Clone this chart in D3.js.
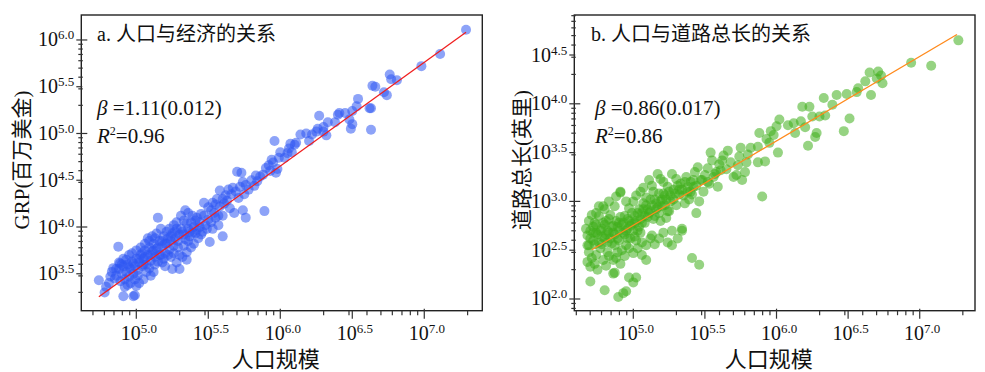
<!DOCTYPE html>
<html>
<head>
<meta charset="utf-8">
<script src="https://cdn.jsdelivr.net/npm/d3@7"></script>
<style>
body { margin: 0; background: #fff; }
svg { display: block; }
</style>
</head>
<body>
<svg id="chart" width="985" height="372"></svg>
<script>
// all values are log10 exponents
// [population, GRP]
const popGrp = [
    [7.29, 6.11], [7.11, 5.85], [6.98, 5.72], [6.76, 5.63], [6.77, 5.58], [6.81, 5.57], [6.74, 5.41], [6.72, 5.44],
    [6.64, 5.51], [6.66, 5.50], [6.54, 5.37], [6.53, 5.29], [6.62, 5.27], [6.63, 5.27], [6.63, 5.04], [6.50, 5.24],
    [6.45, 5.22], [6.48, 5.15], [6.50, 5.10], [6.49, 5.05], [6.41, 5.22], [6.40, 5.20], [6.38, 5.12], [6.33, 5.12],
    [6.30, 5.07], [6.27, 5.19], [6.26, 5.05], [6.30, 5.02], [6.32, 4.98], [6.25, 5.02], [6.22, 4.99], [6.18, 5.00],
    [6.20, 4.92], [6.14, 4.99], [6.10, 4.88], [6.11, 4.90], [6.07, 4.89], [6.06, 4.84], [6.05, 4.79], [6.08, 4.80],
    [6.03, 4.74], [5.96, 4.92], [6.00, 4.80], [5.99, 4.74], [5.94, 4.72], [5.95, 4.69], [5.92, 4.66], [5.98, 4.62],
    [5.97, 4.58], [5.93, 4.60], [5.90, 4.63], [5.88, 4.56], [5.86, 4.54], [5.83, 4.55], [5.84, 4.49], [5.82, 4.44],
    [5.80, 4.50], [5.89, 4.17], [5.73, 4.58], [5.70, 4.59], [5.78, 4.40], [5.76, 4.45], [5.74, 4.48], [5.72, 4.43],
    [5.75, 4.35], [5.71, 4.31], [5.69, 4.38], [5.67, 4.42], [5.66, 4.35], [5.64, 4.40], [5.62, 4.34], [5.60, 4.30],
    [5.63, 4.28], [5.61, 4.25], [5.58, 4.39], [5.56, 4.30], [5.58, 4.22], [5.55, 4.24], [5.53, 4.26], [5.47, 4.26],
    [5.52, 4.18], [5.50, 4.21], [5.54, 4.15], [5.57, 4.12], [5.60, 4.12], [5.65, 4.20], [5.68, 4.15], [5.74, 4.18],
    [5.76, 4.10], [5.60, 3.90], [5.51, 3.84], [5.45, 4.14], [5.44, 4.05], [5.42, 4.10], [5.40, 4.00], [5.41, 4.07],
    [5.38, 4.05], [5.36, 3.98], [5.39, 3.94], [5.35, 4.04], [5.37, 3.90], [5.33, 4.07], [5.32, 3.95], [5.34, 3.87],
    [5.31, 4.12], [5.30, 3.92], [5.29, 3.85], [5.28, 3.98], [5.27, 3.88], [5.26, 3.80], [5.25, 3.93], [5.24, 3.85],
    [5.23, 3.76], [5.22, 3.88], [5.21, 3.82], [5.20, 3.72], [5.15, 4.10], [5.19, 3.90], [5.18, 3.80], [5.17, 3.70],
    [5.16, 3.85], [5.14, 3.77], [5.13, 3.68], [5.12, 3.82], [5.11, 3.74], [5.10, 3.64], [5.09, 3.78], [5.08, 3.70],
    [5.07, 3.60], [5.06, 3.75], [5.05, 3.66], [5.04, 3.58], [5.03, 3.70], [5.02, 3.62], [5.01, 3.54], [5.00, 3.66],
    [4.99, 3.58], [4.98, 3.50], [4.97, 3.63], [4.96, 3.55], [4.95, 3.47], [4.94, 3.60], [4.93, 3.52], [4.92, 3.44],
    [4.91, 3.58], [4.90, 3.50], [4.89, 3.42], [4.88, 3.62], [4.875, 3.79], [4.86, 3.55], [4.85, 3.45], [4.83, 3.52],
    [4.81, 3.40], [4.79, 3.36], [4.78, 3.30], [4.74, 3.43], [4.887, 3.61], [4.91, 3.26], [4.98, 3.26], [4.99, 3.27],
    [5.30, 3.55], [5.28, 3.62], [5.32, 3.68], [5.35, 3.73], [5.40, 3.82], [5.25, 3.55], [5.20, 3.58], [5.18, 3.62],
    [5.12, 3.52], [5.10, 3.48], [5.05, 3.44], [5.02, 3.40], [5.00, 3.37], [4.95, 3.70], [4.93, 3.65], [4.97, 3.72],
    [5.00, 3.75], [5.03, 3.78], [5.06, 3.82], [5.08, 3.88], [5.11, 3.90], [5.14, 3.93], [5.16, 3.70], [5.19, 3.66],
    [5.22, 3.70], [5.24, 3.68], [5.26, 3.72], [5.29, 3.78], [5.33, 3.80], [5.36, 3.85], [5.38, 3.78], [5.43, 3.88],
    [5.46, 3.95], [5.48, 4.02], [5.50, 4.08], [5.47, 4.12], [5.52, 4.05], [5.55, 4.10], [5.57, 4.02], [5.53, 3.98],
    [5.45, 3.92], [5.42, 3.97], [5.39, 4.12], [5.36, 4.15], [5.34, 4.18], [5.28, 4.05], [5.26, 4.02], [5.23, 3.98],
    [5.21, 3.95], [5.17, 3.98], [5.13, 3.88], [5.09, 3.85], [5.05, 3.60], [5.07, 3.52], [5.09, 3.56], [5.13, 3.60],
    [5.15, 3.63], [5.01, 3.48], [4.99, 3.44], [4.96, 3.40], [4.94, 3.38], [4.92, 3.36], [4.90, 3.60], [4.91, 3.66],
    [4.88, 3.55], [4.86, 3.48], [4.84, 3.56], [4.82, 3.47], [4.95, 3.57], [4.98, 3.61], [5.02, 3.66], [5.04, 3.72],
    [5.06, 3.68], [5.10, 3.70], [5.12, 3.75], [5.15, 3.78], [5.18, 3.85], [5.20, 3.82], [5.24, 3.90], [5.27, 3.95],
    [5.31, 3.98], [5.33, 3.92], [5.37, 3.95], [5.41, 3.93], [5.44, 4.00], [5.49, 3.98], [5.35, 3.65], [5.30, 3.70]
];

// [population, road length]
const popRoad = [
    [7.27, 4.65], [6.94, 4.42], [7.08, 4.39], [6.65, 4.32], [6.71, 4.33], [6.73, 4.29], [6.74, 4.21], [6.70, 4.26],
    [6.66, 4.09], [6.62, 4.23], [6.57, 4.16], [6.56, 4.12], [6.49, 4.10], [6.42, 4.09], [6.33, 4.06], [6.51, 3.85],
    [6.47, 3.72], [6.39, 3.99], [6.34, 3.88], [6.30, 3.87], [6.25, 3.87], [6.18, 3.97], [6.23, 3.97], [6.22, 3.57],
    [6.28, 3.70], [6.27, 3.66], [6.20, 3.76], [6.17, 3.82], [6.12, 3.80], [6.08, 3.78], [6.13, 3.70], [6.02, 3.84],
    [6.00, 3.77], [6.01, 3.50], [5.98, 3.68], [5.96, 3.72], [5.93, 3.64], [5.95, 3.60], [5.88, 3.70], [5.87, 3.56],
    [5.92, 3.41], [5.87, 3.40], [5.90, 3.05], [5.82, 3.55], [5.80, 3.48], [5.79, 3.40], [5.78, 3.30], [5.75, 3.55],
    [5.74, 3.46], [5.73, 3.37], [5.72, 3.27], [5.76, 3.22], [5.70, 3.25], [5.66, 3.52], [5.63, 3.47], [5.62, 3.42],
    [5.60, 3.38], [5.65, 3.33], [5.68, 3.40], [5.58, 3.30], [5.54, 3.50], [5.55, 3.42], [5.52, 3.34], [5.56, 3.25],
    [5.59, 3.15], [5.53, 3.18], [5.50, 3.27], [5.49, 3.10], [5.47, 3.22], [5.46, 3.00], [5.45, 3.35], [5.43, 3.30],
    [5.42, 3.15], [5.41, 3.07], [5.44, 2.88], [5.40, 3.20], [5.38, 3.10], [5.36, 2.98], [5.34, 2.70], [5.39, 3.02],
    [5.37, 3.25], [5.33, 3.18], [5.32, 3.07], [5.30, 3.23], [5.28, 3.12], [5.26, 3.00], [5.25, 2.90], [5.27, 3.28],
    [5.24, 3.15], [5.22, 3.06], [5.20, 2.95], [5.21, 3.20], [5.18, 3.08], [5.16, 2.98], [5.15, 2.85], [5.19, 2.80],
    [5.14, 3.10], [5.12, 3.02], [5.10, 2.92], [5.11, 3.22], [5.17, 3.28], [5.23, 2.83], [5.13, 2.65], [5.09, 3.04],
    [5.08, 2.85], [5.07, 2.98], [5.06, 2.78], [5.05, 3.10], [5.04, 2.92], [5.03, 2.70], [5.02, 2.60], [5.01, 2.85],
    [5.00, 3.00], [4.99, 2.77], [4.98, 2.62], [4.97, 2.93], [4.96, 2.72], [4.95, 2.55], [4.94, 2.85], [4.93, 2.68],
    [4.92, 2.50], [4.91, 3.10], [4.90, 2.78], [4.89, 2.62], [4.88, 2.42], [4.87, 2.95], [4.86, 2.75], [4.85, 2.57],
    [4.84, 2.86], [4.83, 2.68], [4.82, 2.48], [4.81, 2.80], [4.80, 2.62], [4.79, 2.95], [4.78, 2.72], [4.77, 2.52],
    [4.76, 2.85], [4.75, 2.66], [4.74, 2.45], [4.73, 2.78], [4.72, 2.60], [4.71, 2.86], [4.70, 2.70], [4.69, 2.55],
    [4.68, 2.38], [4.67, 2.72], [4.70, 2.18], [4.80, 2.09], [4.86, 2.26], [4.87, 2.27], [4.895, 2.02], [4.93, 2.06],
    [4.95, 2.08], [4.97, 2.22], [5.00, 2.17], [5.02, 2.22], [5.27, 2.55], [5.41, 2.42], [5.46, 2.35], [5.34, 2.72],
    [4.70, 2.62], [4.72, 2.74], [4.74, 2.68], [4.76, 2.58], [4.78, 2.64], [4.80, 2.76], [4.82, 2.70], [4.84, 2.62],
    [4.86, 2.68], [4.88, 2.80], [4.90, 2.70], [4.92, 2.76], [4.94, 2.66], [4.96, 2.82], [4.98, 2.75], [5.00, 2.70],
    [5.02, 2.80], [5.04, 2.74], [5.06, 2.88], [5.08, 2.78], [5.10, 2.84], [5.12, 2.90], [5.14, 2.82], [5.16, 2.92],
    [5.18, 2.88], [5.20, 3.02], [5.22, 2.96], [5.24, 2.90], [5.26, 3.06], [5.28, 3.02], [5.30, 2.96], [5.32, 3.12],
    [5.35, 3.06], [5.38, 3.15], [5.40, 3.10], [5.44, 3.16], [5.48, 3.22], [5.52, 3.20], [5.57, 3.28], [5.61, 3.32],
    [4.71, 2.42], [4.73, 2.36], [4.75, 2.30], [4.79, 2.40], [4.81, 2.34], [4.83, 2.44], [4.86, 2.40], [4.89, 2.48],
    [4.91, 2.36], [4.94, 2.44], [4.97, 2.52], [5.00, 2.47], [5.03, 2.52], [5.06, 2.58], [5.09, 2.55], [5.12, 2.62],
    [5.15, 2.56], [5.18, 2.62], [5.21, 2.68], [5.24, 2.58], [5.27, 2.70], [5.31, 2.62], [5.06, 2.45], [5.09, 2.40],
    [4.80, 2.92], [4.83, 3.00], [4.88, 3.05], [4.95, 3.00], [5.02, 3.06], [5.07, 3.14], [5.13, 3.16], [5.19, 3.23],
    [4.76, 2.95], [4.74, 2.88], [4.69, 2.80], [4.68, 2.65], [4.69, 2.48], [4.70, 2.33], [4.68, 2.55], [4.91, 3.09],
    [4.72, 2.68], [4.74, 2.76], [4.77, 2.70], [4.79, 2.78], [4.81, 2.66], [4.83, 2.82], [4.85, 2.74], [4.87, 2.66],
    [4.89, 2.74], [4.91, 2.84], [4.93, 2.78], [4.95, 2.70], [4.97, 2.80], [4.99, 2.88], [5.01, 2.78], [5.03, 2.88],
    [5.05, 2.82], [5.07, 2.92], [5.09, 2.96], [5.11, 2.88], [5.13, 2.96], [5.15, 3.02], [5.17, 2.94], [5.19, 3.00],
    [5.21, 3.08], [5.23, 3.02], [5.25, 3.10], [5.29, 3.08], [5.31, 3.16], [5.34, 3.12], [5.36, 3.20], [5.42, 3.22],
    [4.73, 2.56], [4.78, 2.56], [4.82, 2.58], [4.87, 2.55], [4.90, 2.60], [4.96, 2.62], [5.01, 2.64], [5.05, 2.68]
];

// fitted lines, end points
const grpFit = [[4.74, 3.255], [7.29, 6.082]];
const roadFit = [[4.71, 2.505], [7.26, 4.71]];

const xTickExp = [5.0, 5.5, 6.0, 6.5, 7.0];
const grpTickExp = [3.5, 4.0, 4.5, 5.0, 5.5, 6.0];
const roadTickExp = [2.0, 2.5, 3.0, 3.5, 4.0, 4.5];

const SERIF = '"Liberation Serif", "Times New Roman", "Noto Sans CJK SC", serif';
const svg = d3.select("#chart");

function minorTicks(scale) {
    var d = scale.domain(), out = [];
    for (let k = 1; k <= 7; k++) {
        for (let m = 2; m <= 9; m++) {
            var v = m * Math.pow(10, k);
            if (v > d[0] && v < d[1]) out.push(v);
        }
    }
    return out;
}

function drawPanel(p) {
    var x = d3.scaleLog().domain([Math.pow(10, p.xDom[0]), Math.pow(10, p.xDom[1])]).range([p.left, p.right]);
    var y = d3.scaleLog().domain([Math.pow(10, p.yDom[0]), Math.pow(10, p.yDom[1])]).range([p.bottom, p.top]);
    var g = svg.append("g");

    // points
    g.append("g").selectAll("circle")
        .data(p.data)
        .enter()
        .append("circle")
        .attr("cx", d => x(Math.pow(10, d[0])))
        .attr("cy", d => y(Math.pow(10, d[1])))
        .attr("r", 5)
        .style("fill", p.color)
        .style("fill-opacity", 0.55);

    // fit line
    g.append("path")
        .datum(p.fit)
        .attr("d", d3.line().x(d => x(Math.pow(10, d[0]))).y(d => y(Math.pow(10, d[1]))))
        .style("fill", "none")
        .style("stroke", p.lineColor)
        .style("stroke-width", 1.3);

    // frame
    g.append("rect")
        .attr("x", p.left).attr("y", p.top)
        .attr("width", p.right - p.left).attr("height", p.bottom - p.top)
        .style("fill", "none").style("stroke", "#222").style("stroke-width", 1.4);

    // x ticks
    var xMajor = p.xTicks.map(e => Math.pow(10, e));
    var ax = g.append("g").style("stroke", "#333").style("stroke-width", 1.2);
    ax.selectAll(".mn").data(minorTicks(x)).enter().append("line")
        .attr("x1", d => x(d)).attr("x2", d => x(d))
        .attr("y1", p.bottom).attr("y2", p.bottom + 4.5);
    ax.selectAll(".mj").data(xMajor).enter().append("line")
        .attr("x1", d => x(d)).attr("x2", d => x(d))
        .attr("y1", (d, i) => p.xTicks[i] % 1 == 0 ? p.bottom - 2 : p.bottom)
        .attr("y2", p.bottom + 8);

    // y ticks
    var yMajor = p.yTicks.map(e => Math.pow(10, e));
    var ay = g.append("g").style("stroke", "#333").style("stroke-width", 1.2);
    ay.selectAll(".mn").data(minorTicks(y)).enter().append("line")
        .attr("y1", d => y(d)).attr("y2", d => y(d))
        .attr("x1", p.left - 3).attr("x2", p.left + 1.5);
    ay.selectAll(".mj").data(yMajor).enter().append("line")
        .attr("y1", d => y(d)).attr("y2", d => y(d))
        .attr("x1", p.left - 5)
        .attr("x2", (d, i) => p.yTicks[i] % 1 == 0 ? p.left + 6 : p.left + 1);

    // tick labels
    var xl = g.selectAll(".xl").data(p.xTicks).enter().append("text")
        .attr("x", d => x(Math.pow(10, d)) + 2.5)
        .attr("y", p.bottom + 29)
        .attr("text-anchor", "middle")
        .style("font-family", SERIF).style("font-size", "20px").style("fill", "#111");
    xl.append("tspan").text("10");
    xl.append("tspan").attr("dy", -7).style("font-size", "13px").text(d => d.toFixed(1));

    var yl = g.selectAll(".yl").data(p.yTicks).enter().append("text")
        .attr("x", p.left - 7)
        .attr("y", d => y(Math.pow(10, d)) + 6.5)
        .attr("text-anchor", "end")
        .style("font-family", SERIF).style("font-size", "20px").style("fill", "#111");
    yl.append("tspan").text("10");
    yl.append("tspan").attr("dy", -7).style("font-size", "13px").text(d => d.toFixed(1));

    // axis titles
    g.append("text")
        .attr("x", (p.left + p.right) / 2 - 6)
        .attr("y", 367)
        .attr("text-anchor", "middle")
        .style("font-family", SERIF).style("font-size", "22px").style("fill", "#111")
        .text("人口规模");
    g.append("text")
        .attr("transform", "translate(" + p.yTitleX + ",160) rotate(-90)")
        .attr("text-anchor", "middle")
        .style("font-family", SERIF).style("font-size", "21px").style("fill", "#111")
        .text(p.yTitle);

    // panel title and stats
    g.append("text")
        .attr("x", p.titleX).attr("y", 41)
        .style("font-family", SERIF).style("font-size", "20px").style("fill", "#111")
        .text(p.title);
    var b = g.append("text")
        .attr("x", p.statX).attr("y", 115)
        .style("font-family", SERIF).style("font-size", "21px").style("fill", "#111");
    b.append("tspan").style("font-style", "italic").text("β");
    b.append("tspan").text(" =" + p.beta);
    var r = g.append("text")
        .attr("x", p.statX).attr("y", 142.5)
        .style("font-family", SERIF).style("font-size", "21px").style("fill", "#111");
    r.append("tspan").style("font-style", "italic").text("R");
    r.append("tspan").attr("dy", -8).style("font-size", "12px").text("2");
    r.append("tspan").attr("dy", 8).text("=" + p.r2);
}

drawPanel({
    left: 81.3, right: 482.3, top: 15, bottom: 310.7,
    xDom: [4.618, 7.403], yDom: [3.105, 6.267],
    data: popGrp, fit: grpFit, color: "#2f58f2", lineColor: "#f01e1e",
    xTicks: xTickExp, yTicks: grpTickExp,
    yTitle: "GRP(百万美金)", yTitleX: 29,
    title: "a. 人口与经济的关系", titleX: 97,
    statX: 97, beta: "1.11(0.012)", r2: "0.96"
});

drawPanel({
    left: 574.3, right: 975, top: 15, bottom: 310.7,
    xDom: [4.588, 7.386], yDom: [1.88, 4.91],
    data: popRoad, fit: roadFit, color: "#3fae1c", lineColor: "#ff8a1c",
    xTicks: xTickExp, yTicks: roadTickExp,
    yTitle: "道路总长(英里)", yTitleX: 529,
    title: "b. 人口与道路总长的关系", titleX: 591,
    statX: 595, beta: "0.86(0.017)", r2: "0.86"
});
</script>
</body>
</html>
